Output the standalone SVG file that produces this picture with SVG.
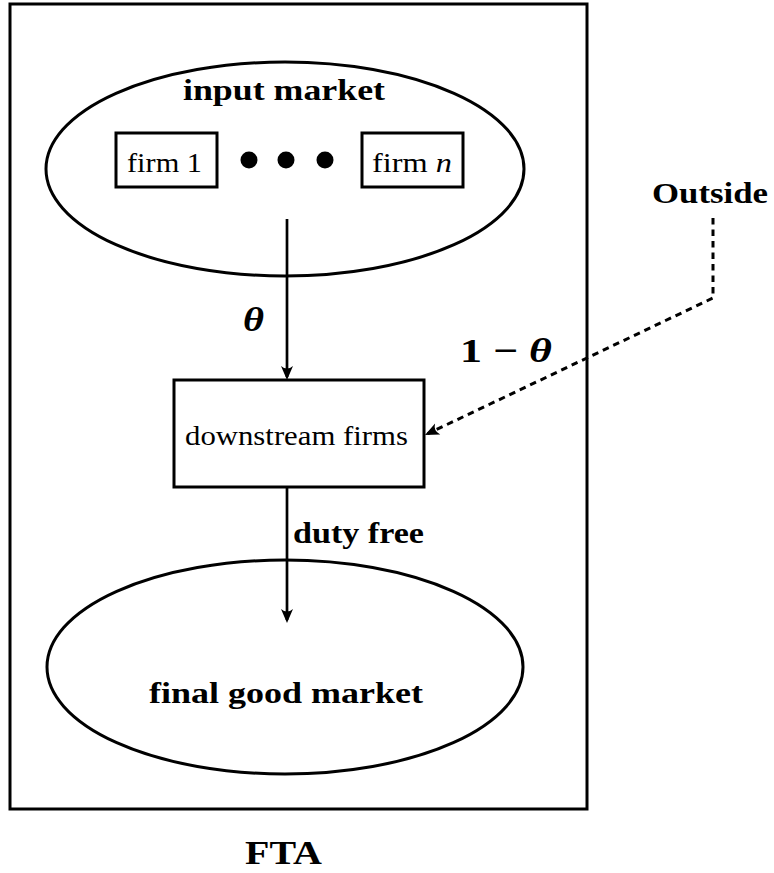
<svg xmlns="http://www.w3.org/2000/svg" width="774" height="873" viewBox="0 0 774 873">
<defs>
<style>
.shape{fill:none;stroke:#000;stroke-width:3}
.conn{fill:none;stroke:#000;stroke-width:2.7}
.dash{stroke-width:3;stroke-dasharray:6.5 5}
.b{font-family:"Liberation Serif","Times New Roman",serif;font-weight:bold;fill:#000}
.r{font-family:"Liberation Serif","Times New Roman",serif;fill:#000}
</style>
<marker id="ah" viewBox="-16 -8 20 16" refX="0" refY="0" markerWidth="20" markerHeight="16" markerUnits="userSpaceOnUse" orient="auto">
<path d="M3,0 L-11,-6 Q-6,0 -11,6 Z" fill="#000"/>
</marker>
</defs>
<rect width="774" height="873" fill="#fff"/>
<g id="fta">
<rect class="shape" x="10" y="4" width="577" height="805"/>
<text class="b" x="245" y="864" font-size="33" textLength="77" lengthAdjust="spacingAndGlyphs">FTA</text>
</g>
<g id="input-market">
<ellipse class="shape" cx="285" cy="169" rx="239" ry="107"/>
<text class="b" x="183" y="100" font-size="30" textLength="202" lengthAdjust="spacingAndGlyphs">input market</text>
</g>
<g id="firm1">
<rect class="shape" x="116" y="133" width="101" height="54"/>
<text class="r" x="127" y="172" font-size="28" textLength="75" lengthAdjust="spacingAndGlyphs">firm 1</text>
</g>
<g id="dots">
<circle cx="249" cy="160" r="8.5" fill="#000"/>
<circle cx="286" cy="160" r="8.5" fill="#000"/>
<circle cx="325" cy="160" r="8.5" fill="#000"/>
</g>
<g id="firmn">
<rect class="shape" x="362" y="133" width="101" height="54"/>
<text class="r" x="372" y="172" font-size="28" textLength="80" lengthAdjust="spacingAndGlyphs">firm <tspan font-style="italic">n</tspan></text>
</g>
<g id="downstream">
<rect class="shape" x="174" y="380" width="250" height="107"/>
<text class="r" x="185" y="445" font-size="28" textLength="223" lengthAdjust="spacingAndGlyphs">downstream firms</text>
</g>
<g id="outside">
<text class="b" x="652" y="203" font-size="30" textLength="116" lengthAdjust="spacingAndGlyphs">Outside</text>
</g>
<g id="final-market">
<ellipse class="shape" cx="285" cy="667" rx="238" ry="107"/>
<text class="b" x="149" y="703" font-size="30" textLength="274" lengthAdjust="spacingAndGlyphs">final good market</text>
</g>
<g id="connectors">
<line class="conn" x1="287" y1="219" x2="287" y2="377" marker-end="url(#ah)"/>
<line class="conn" x1="287" y1="487" x2="287" y2="620" marker-end="url(#ah)"/>
<path class="conn dash" d="M713,218 L713,298 L427.7,433.7" marker-end="url(#ah)"/>
<text class="b" x="243" y="331" font-size="34" font-style="italic" textLength="21" lengthAdjust="spacingAndGlyphs">θ</text>
<text class="b" x="460" y="362" font-size="34" textLength="92" lengthAdjust="spacingAndGlyphs">1 − <tspan font-style="italic">θ</tspan></text>
<text class="b" x="293" y="543" font-size="30" textLength="131" lengthAdjust="spacingAndGlyphs">duty free</text>
</g>
</svg>
